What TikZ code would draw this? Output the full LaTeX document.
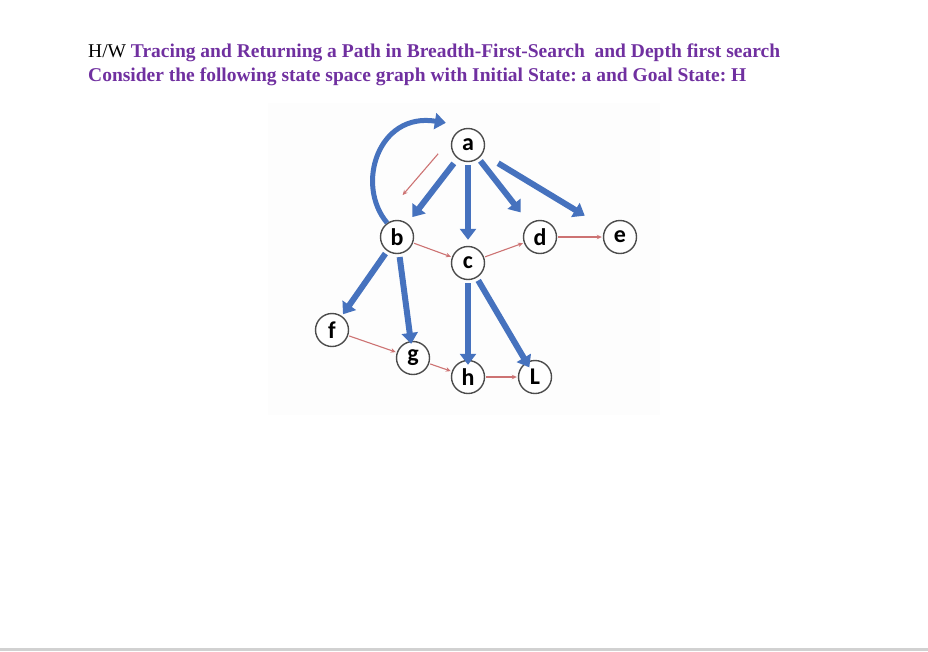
\documentclass[tikz,border=0pt]{standalone}
\usepackage{fontspec}
\setmainfont{Liberation Serif}
\newfontfamily\nodefont{Carlito}
\usetikzlibrary{positioning,arrows.meta}

\definecolor{hwpurple}{RGB}{112,48,160}
\definecolor{edgeblue}{RGB}{70,114,190}
\definecolor{edgered}{RGB}{205,115,115}

\begin{document}
\frenchspacing
\begin{tikzpicture}[
  x=1pt, y=-1pt,
  font=\fontsize{19.5}{22}\selectfont,
  node distance=20pt,
  st/.style={draw=black!70, circle, line width=1.4pt, fill=white, minimum size=33pt,
    inner sep=0pt, on grid, font=\nodefont\bfseries\fontsize{24}{24}\selectfont},
  big/.style={-{Triangle[length=11pt,width=16pt]}, line width=6pt, draw=edgeblue,
    shorten >=2pt, shorten <=3pt},
  thin/.style={-{Stealth[length=5pt,width=4.5pt]}, line width=1.1pt, draw=edgered,
    shorten >=1pt, shorten <=1pt}
]
\useasboundingbox (0,0) rectangle (928,651);

% Titel
\node[anchor=base west, inner sep=0pt] (t1) at (88,57) {H/W \textcolor{hwpurple}{\bfseries Tracing and Returning a Path in Breadth-First-Search\ \ and Depth first search}};
\node[anchor=base west, inner sep=0pt] (t2) at (88,81) {\textcolor{hwpurple}{\bfseries Consider the following state space graph with Initial State: a and Goal State: H}};

% Bildflaeche und Linie unten
\fill[black!0.8] (268,103) rectangle (660,415);
\fill[black!18] (0,648) rectangle (928,651);

% Zustaende
\node[st] (a) at (468,145) {a};
\node[st, below left=92pt and 71pt of a] (b) {b};
\node[st, below=118pt of a] (c) {c};
\node[st, below right=92pt and 72pt of a] (d) {d};
\node[st, right=80pt of d] (e) {e};
\node[st, below left=93pt and 65pt of b] (f) {f};
\node[st, below right=121pt and 16pt of b] (g) {g};
\node[st, below=114pt of c] (h) {h};
\node[st, right=67pt of h] (l) {L};

% Baumkanten (blau)
\draw[big, shorten <=6pt, shorten >=8pt] (a) -- (b);
\draw[big, shorten <=3pt, shorten >=6pt] (a) -- (c);
\draw[big, shorten >=14pt] (a) -- (d);
\draw[big, shorten <=18pt, shorten >=24pt] (a) -- (e);
\draw[big] (b) -- (f);
\draw[big, shorten >=-3pt] (b) -- (g);
\draw[big, shorten >=-5pt] (c) -- (h);
\draw[big, shorten >=-6pt] (c) -- (l);

% Rueckkante b nach a
\draw[big, line width=5pt, shorten <=0pt, shorten >=0pt]
  (b.125) .. controls (355,185) and (378,112) .. ([xshift=-10pt,yshift=10pt]a.north west);

% Verfolgung (rot)
\draw[thin] ([xshift=-12pt,yshift=-8pt]a.west) -- ([xshift=5pt,yshift=24pt]b.north);
\draw[thin] (b) -- (c);
\draw[thin] (c) -- (d);
\draw[thin] (d) -- (e);
\draw[thin] (f) -- (g);
\draw[thin] (g) -- (h);
\draw[thin] (h) -- (l);

\end{tikzpicture}
\end{document}
